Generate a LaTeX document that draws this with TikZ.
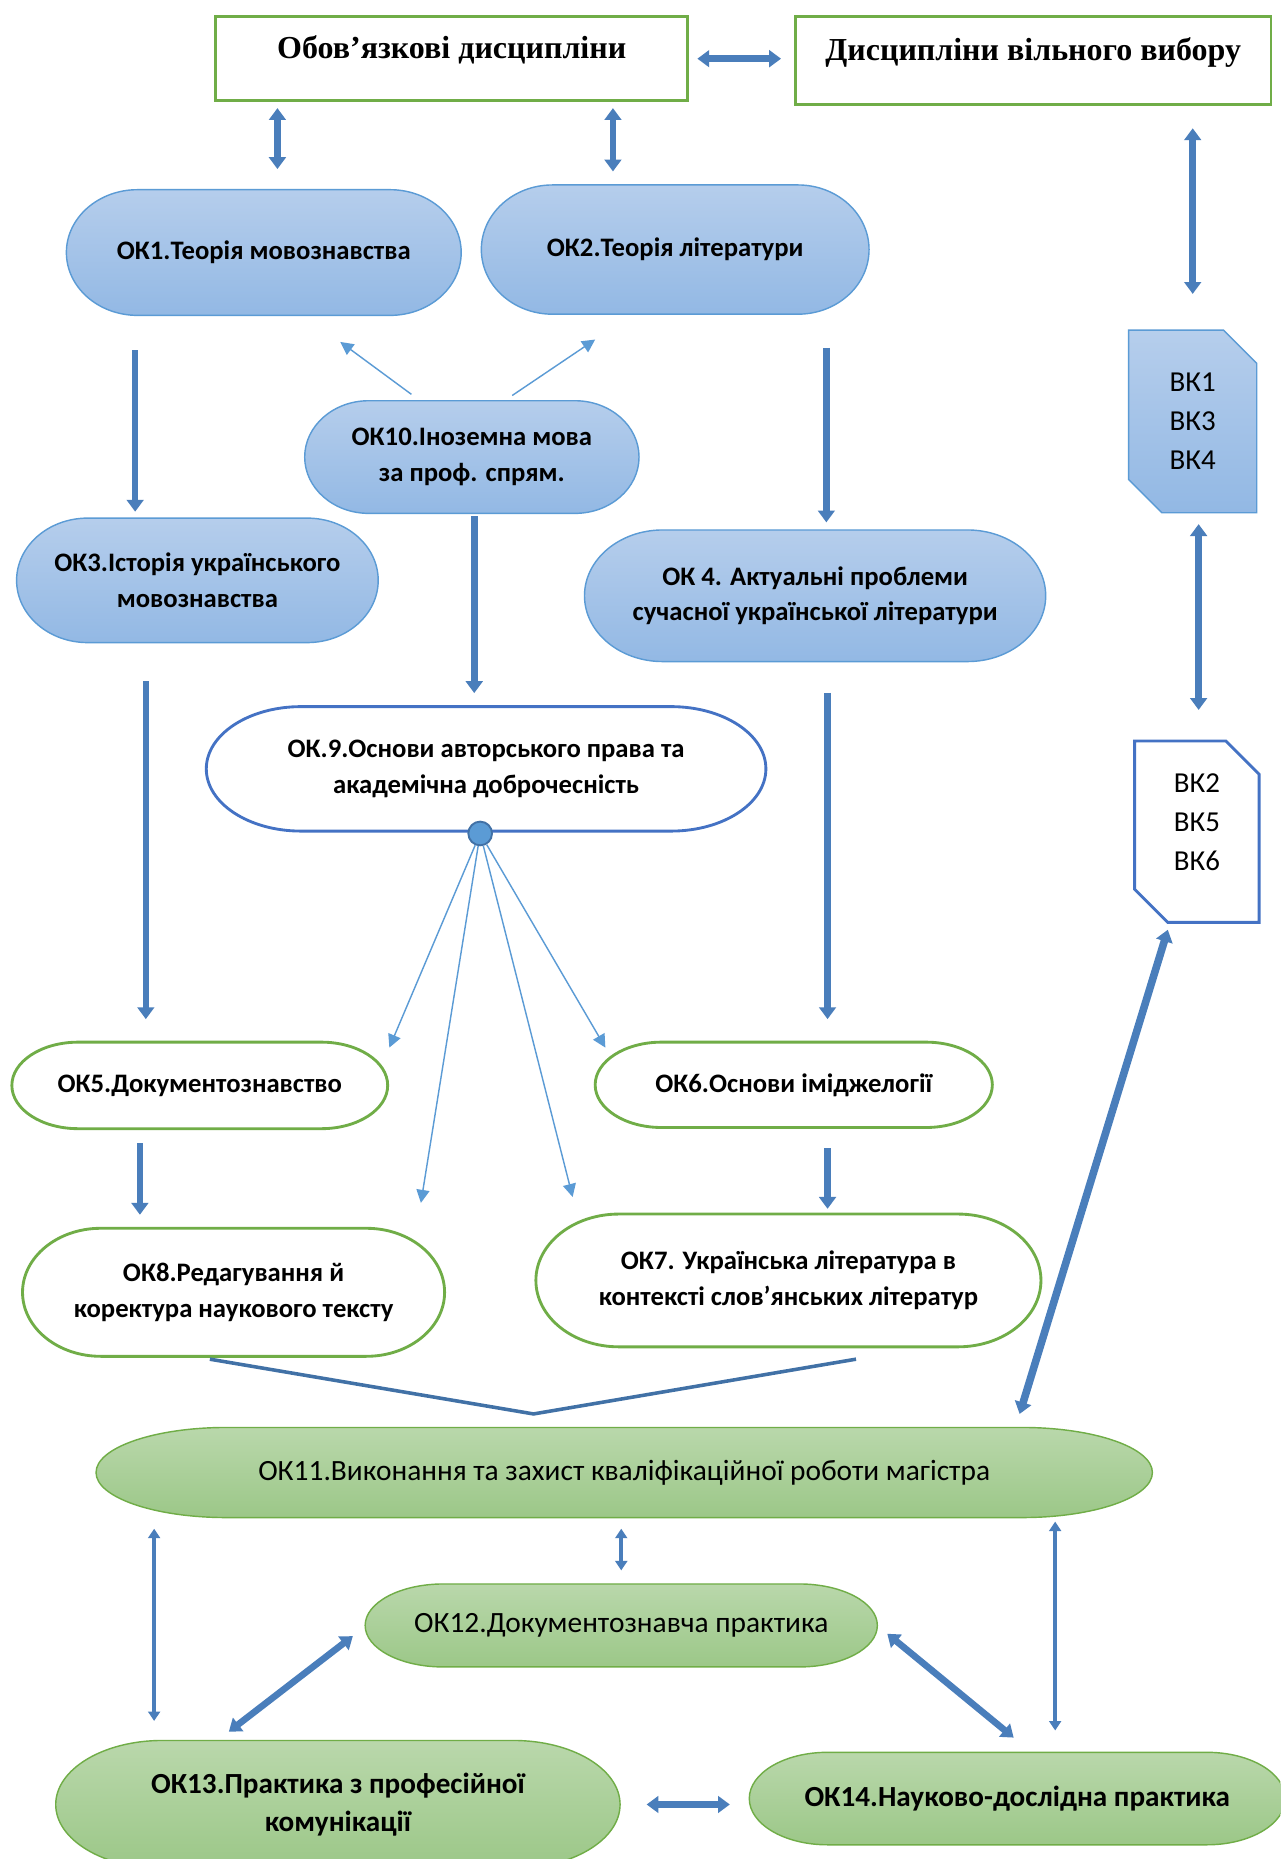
\documentclass[tikz,border=0pt]{standalone}
\usepackage{fontspec}
\setmainfont{Carlito}
\newfontfamily\headfont{Liberation Serif}
\usetikzlibrary{arrows.meta, shapes.misc, calc}

\definecolor{bluetop}{RGB}{182,206,236}
\definecolor{bluebot}{RGB}{146,184,228}
\definecolor{bluedge}{RGB}{91,155,213}
\definecolor{greentop}{RGB}{186,216,172}
\definecolor{greenbot}{RGB}{155,199,135}
\definecolor{greenedge}{RGB}{112,173,71}
\definecolor{lineblue}{RGB}{68,114,196}
\definecolor{arrowblue}{RGB}{74,126,187}
\definecolor{arrowdark}{RGB}{65,113,166}
\definecolor{thinblue}{RGB}{91,155,213}

\newcommand\okfont{\fontsize{11.25}{15}\selectfont\bfseries}
\newcommand\pracfont{\fontsize{12.3}{16}\selectfont\bfseries}

\begin{document}
\begin{tikzpicture}[
    x=0.5pt, y=-0.5pt,
    endrad/.store in=\termrx, endrad=30,
    termfill/.style={draw=black},
    term/.style={
        rectangle, align=center, inner sep=0pt,
        path picture={
            \path[termfill] let \p1=(path picture bounding box.north west),
                \p2=(path picture bounding box.south east),
                \n1={(\y1-\y2)/2-1pt}, \n2={\termrx*1pt} in
                (\x1+1pt+\n2,\y1-1pt) -- (\x2-1pt-\n2,\y1-1pt)
                arc[start angle=90, end angle=-90, x radius=\n2, y radius=\n1]
                -- (\x1+1pt+\n2,\y2+1pt)
                arc[start angle=270, end angle=90, x radius=\n2, y radius=\n1]
                -- cycle;
        }
    },
    okblue/.style={term, font=\okfont,
        termfill/.style={draw=bluedge, line width=0.6pt, top color=bluetop, bottom color=bluebot}},
    okgreen/.style={term, font=\pracfont,
        termfill/.style={draw=greenedge, line width=0.6pt, top color=greentop, bottom color=greenbot}},
    okwhite/.style={term, font=\okfont,
        termfill/.style={draw=greenedge, line width=1.2pt, fill=white}},
    okline/.style={term, font=\okfont,
        termfill/.style={draw=lineblue, line width=1.2pt, fill=white}},
    headbox/.style={rectangle, draw=greenedge, line width=1.2pt,
        text height=9pt, text depth=9pt,
        font=\headfont\fontsize{13.5}{16}\selectfont\bfseries},
    vkbox/.style={chamfered rectangle, chamfered rectangle corners={north east, south west},
        chamfered rectangle xsep=7pt, chamfered rectangle ysep=7pt,
        minimum width=54pt, minimum height=77pt, inner sep=0pt, align=center,
        font=\fontsize{12.2}{16.5}\selectfont},
    bigarrow/.style={draw=arrowblue, line width=2.8pt, -{Triangle[length=5pt,width=7pt]}},
    smallarrow/.style={draw=arrowblue, line width=1.8pt,
        {Triangle[length=4pt,width=5pt]}-{Triangle[length=4pt,width=5pt]}},
    both/.style={{Triangle[length=5pt,width=7pt]}-{Triangle[length=5pt,width=7pt]}},
    thinarrow/.style={draw=thinblue, line width=0.6pt, -{Triangle[length=5.5pt,width=5.5pt]}},
    mergeline/.style={draw=arrowdark, line width=1.5pt}
]
    \useasboundingbox (0,0) rectangle (1080,1568);
    \clip (0,0) rectangle (1080,1568);
    \fill[white] (0,0) rectangle (1080,1568);

    % Headers
    \node[headbox, minimum width=199pt, minimum height=35.5pt] (oblig) at (381,49.5) {Обов’язкові дисципліни};
    \node[headbox, minimum width=200.5pt, minimum height=37pt] (vilnyi) at (871.5,51) {Дисципліни вільного вибору};

    % Elective blocks
    \node[vkbox, top color=bluetop, bottom color=bluebot, draw=bluedge, line width=0.6pt] (vk1) at (1006,355.5) {ВК1\\ВК3\\ВК4};
    \node[vkbox, draw=lineblue, line width=1.2pt, fill=white, minimum width=52.5pt, minimum height=76.5pt, text depth=8pt] (vk2) at (1009.5,701.5) {ВК2\\ВК5\\ВК6};

    % Compulsory courses
    \node[okblue, minimum width=168.5pt, minimum height=55pt] (ok1) at (222.5,213) {ОК1.Теорія мовознавства};
    \node[okblue, minimum width=165.5pt, minimum height=56.5pt] (ok2) at (569.5,210.5) {ОК2.Теорія літератури};
    \node[okblue, minimum width=143pt, minimum height=49.5pt, endrad=27] (ok10) at (398,385.5) {ОК10.Іноземна мова\\за проф. спрям.};
    \node[okblue, minimum width=154.5pt, minimum height=54.5pt] (ok3) at (166.5,489.5) {ОК3.Історія українського\\мовознавства};
    \node[okblue, minimum width=196.5pt, minimum height=57.5pt, endrad=33] (ok4) at (687.5,502.5) {ОК 4. Актуальні проблеми\\сучасної української літератури};
    \node[okline, minimum width=238pt, minimum height=54.5pt, endrad=40] (ok9) at (410,648.5) {ОК.9.Основи авторського права та\\академічна доброчесність};
    \node[circle, draw=arrowdark, line width=0.8pt, fill=thinblue, minimum size=10pt, inner sep=0pt] (hub) at (405,703) {};
    \node[okwhite, minimum width=160.5pt, minimum height=38.5pt, endrad=28] (ok5) at (168.5,915.5) {ОК5.Документознавство};
    \node[okwhite, minimum width=169.5pt, minimum height=38pt, endrad=28] (ok6) at (669.5,915) {ОК6.Основи іміджелогії};
    \node[okwhite, minimum width=180pt, minimum height=56pt, endrad=33] (ok8) at (197,1090) {ОК8.Редагування й\\коректура наукового тексту};
    \node[okwhite, minimum width=215pt, minimum height=58pt, endrad=35] (ok7) at (665,1080) {ОК7. Українська література в\\контексті слов’янських літератур};

    % Practice and thesis
    \node[okgreen, minimum width=447.5pt, minimum height=40pt, endrad=55, font=\fontsize{12.4}{15}\selectfont] (ok11) at (526.5,1242) {ОК11.Виконання та захист кваліфікаційної роботи магістра};
    \node[okgreen, minimum width=218pt, minimum height=37pt, endrad=33, font=\fontsize{12.4}{15}\selectfont] (ok12) at (524,1371) {ОК12.Документознавча практика};
    \node[okgreen, minimum width=240pt, minimum height=56pt, endrad=45] (ok13) at (285,1522) {ОК13.Практика з професійної\\комунікації};
    \node[okgreen, minimum width=228pt, minimum height=41pt, endrad=33] (ok14) at (858,1517) {ОК14.Науково-дослідна практика};

    % Header links
    \draw[bigarrow, both, shorten <=3.5pt, shorten >=5.5pt] (oblig.east) -- (oblig.east -| vilnyi.west);
    \draw[bigarrow, both, shorten <=2.5pt, shorten >=7.5pt] ([xshift=-73.5pt]oblig.south) -- ([xshift=-73.5pt]oblig.south |- ok1.north);
    \draw[bigarrow, both, shorten <=2.5pt, shorten >=4.5pt] ([xshift=68pt]oblig.south) -- ([xshift=68pt]oblig.south |- ok2.north);
    \draw[bigarrow, both, shorten <=9.5pt, shorten >=15pt] (vk1.north |- vilnyi.south) -- (vk1.north);
    \draw[bigarrow, both, shorten <=4.5pt, shorten >=12.5pt] ([xshift=2.5pt]vk1.south) -- ([xshift=2.5pt]vk1.south |- vk2.north);

    % Sequence
    \draw[bigarrow, shorten <=13.5pt, shorten >=1.5pt] ([xshift=-54.25pt]ok1.south) -- ([xshift=-54.25pt]ok1.south |- ok3.north);
    \draw[bigarrow, shorten <=13pt, shorten >=2pt] ([xshift=63.75pt]ok2.south) -- ([xshift=63.75pt]ok2.south |- ok4.north);
    \draw[bigarrow, shorten >=4.5pt] ([xshift=1pt]ok10.south) -- ([xshift=1pt]ok10.south |- ok9.north);
    \draw[bigarrow, shorten <=15pt, shorten >=8.5pt] ([xshift=-21.75pt]ok3.south) -- ([xshift=-21.75pt]ok3.south |- ok5.north);
    \draw[bigarrow, shorten <=12pt, shorten >=8.5pt] ([xshift=5.25pt]ok4.south) -- ([xshift=5.25pt]ok4.south |- ok6.north);
    \draw[bigarrow, shorten <=5pt, shorten >=4.5pt] ([xshift=-25.25pt]ok5.south) -- ([xshift=-25.25pt]ok5.south |- ok8.north);
    \draw[bigarrow, shorten <=7.5pt, shorten >=1pt] ([xshift=14.25pt]ok6.south) -- ([xshift=14.25pt]ok6.south |- ok7.north);

    % OK10 and OK9 fan-out
    \draw[thinarrow] ([xshift=-25.5pt,yshift=1.5pt]ok10.north) -- ([xshift=32.25pt,yshift=-10pt]ok1.south);
    \draw[thinarrow] ([xshift=17pt,yshift=1pt]ok10.north) -- ([xshift=-33.75pt,yshift=-9.5pt]ok2.south);
    \draw[thinarrow] (hub) -- ([xshift=-0.5pt,yshift=-3.5pt]ok5.north east);
    \draw[thinarrow] (hub) -- ([xshift=79pt,yshift=9.5pt]ok8.north);
    \draw[thinarrow] (hub) -- ([xshift=-91pt,yshift=6pt]ok7.north);
    \draw[thinarrow] (hub) -- ([xshift=5.5pt,yshift=-3.5pt]ok6.north west);

    % Into the thesis
    \draw[mergeline] ([xshift=-10pt]ok8.south) -- ([xshift=-38.25pt,yshift=4.5pt]ok11.north) -- ([xshift=28.5pt,yshift=-4pt]ok7.south);
    \draw[bigarrow, both, line width=3.2pt] ([xshift=-12.25pt,yshift=-2.5pt]vk2.south) -- ([xshift=166.75pt,yshift=4.5pt]ok11.north);

    % Practice links
    \draw[smallarrow, shorten <=3.5pt, shorten >=7pt] ([xshift=-77.5pt]ok13.north |- ok11.south) -- ([xshift=-77.5pt]ok13.north);
    \draw[smallarrow, shorten <=3.5pt, shorten >=4.5pt] (ok12.north |- ok11.south) -- (ok12.north);
    \draw[smallarrow, shorten <=0.5pt, shorten >=8pt] ([xshift=16pt]ok14.north |- ok11.south) -- ([xshift=16pt]ok14.north);
    \draw[bigarrow, both] ([xshift=-4pt,yshift=-4.5pt]ok12.west) -- ([xshift=-46pt,yshift=2.5pt]ok13.north);
    \draw[bigarrow, both] ([xshift=3pt,yshift=-3.5pt]ok12.east) -- ([xshift=-1.5pt,yshift=5pt]ok14.north);
    \draw[bigarrow, both, shorten <=10pt, shorten >=7pt] (ok13.east) -- (ok13.east -| ok14.west);
\end{tikzpicture}
\end{document}
